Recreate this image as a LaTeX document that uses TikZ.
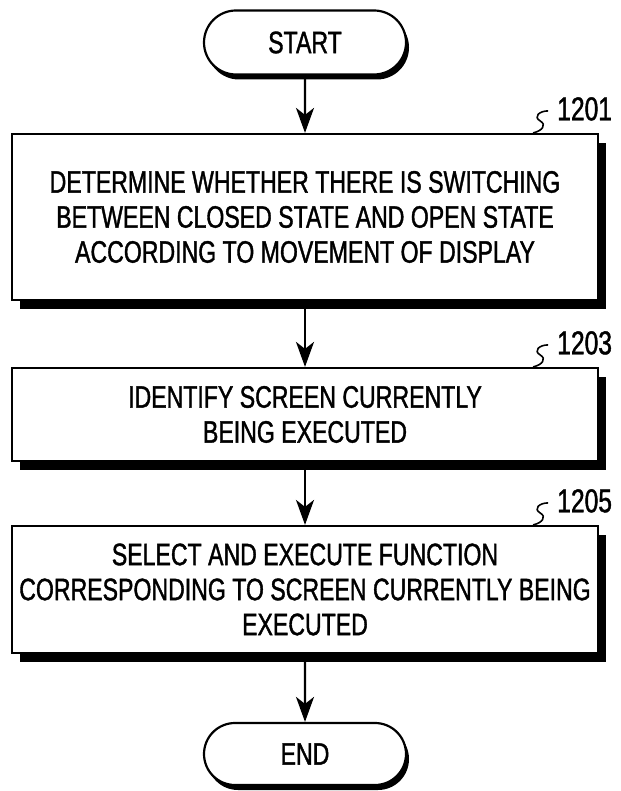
\documentclass[tikz,border=0pt]{standalone}
\usepackage{fontspec}
\setmainfont{Liberation Sans}[FakeStretch=0.745,FakeBold=1.2]
\usetikzlibrary{arrows.meta,shapes.misc,shadows}
\begin{document}
\begin{tikzpicture}[x=1pt,y=-1pt,
 every node/.style={font=\fontsize{31}{35}\selectfont},
 proc/.style={draw, line width=2.2pt, fill=white, minimum width=586pt, align=center, inner sep=0pt,
   drop shadow={shadow xshift=8pt, shadow yshift=-9pt, fill=black, opacity=1}},
 term/.style={draw, line width=2.2pt, fill=white, rounded rectangle, minimum width=202pt, minimum height=64pt, inner sep=0pt,
   drop shadow={shadow xshift=3pt, shadow yshift=-5pt, fill=black, opacity=1}},
 arr/.style={line width=2.2pt, -{Stealth[length=25pt,width=18pt,inset=7pt]}},
 reflabel/.style={anchor=west, inner sep=0pt, font=\fontsize{33}{35}\selectfont},
 squig/.pic={\draw[line width=1.6pt] (0,0) .. controls (9,-2) and (14,-8) .. (7,-12) .. controls (0,-16) and (6,-22) .. (15,-22);}
]
\useasboundingbox (0,0) rectangle (620,791);

\node[term] (start) at (305,42.5) {START};
\node[proc, minimum height=166pt] (b1) at (305,217) {DETERMINE WHETHER THERE IS SWITCHING\\BETWEEN CLOSED STATE AND OPEN STATE\\ACCORDING TO MOVEMENT OF DISPLAY};
\node[proc, minimum height=93pt] (b2) at (305,414.5) {IDENTIFY SCREEN CURRENTLY\\BEING EXECUTED};
\node[proc, minimum height=127pt] (b3) at (305,589.5) {SELECT AND EXECUTE FUNCTION\\CORRESPONDING TO SCREEN CURRENTLY BEING\\EXECUTED};
\node[term, minimum height=62pt] (end) at (305,754) {END};

\draw[arr] (start) -- (b1);
\draw[arr] (b1) -- (b2);
\draw[arr] (b2) -- (b3);
\draw[arr] (b3) -- (end);

\pic at ([xshift=-66pt]b1.north east) {squig};
\node[reflabel] (r1) at ([xshift=-42pt,yshift=24pt]b1.north east) {1201};
\pic at ([xshift=-66pt]b2.north east) {squig};
\node[reflabel] (r2) at ([xshift=-42pt,yshift=24pt]b2.north east) {1203};
\pic at ([xshift=-66pt]b3.north east) {squig};
\node[reflabel] (r3) at ([xshift=-42pt,yshift=24pt]b3.north east) {1205};
\end{tikzpicture}
\end{document}
